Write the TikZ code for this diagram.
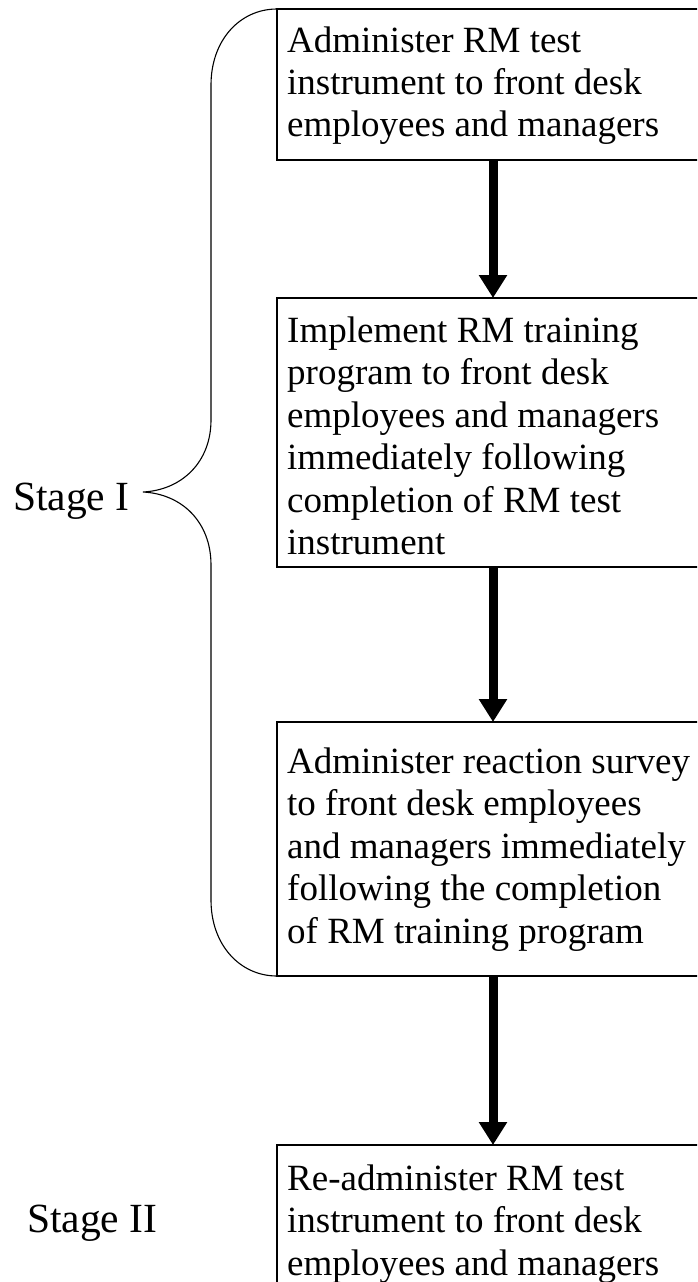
\documentclass[tikz,border=0pt]{standalone}
\usepackage{fontspec}
\setmainfont{Liberation Serif}
\usetikzlibrary{arrows.meta}
\tikzset{
  box/.style={draw, line width=2pt, rectangle, inner sep=0pt, outer sep=0pt, minimum width=432pt, anchor=north west},
  txt/.style={inner sep=0pt, anchor=base west, font=\fontsize{37}{42.5}\selectfont},
  stagelbl/.style={inner sep=0pt, anchor=base west, font=\fontsize{41.5}{48}\selectfont},
  arr/.style={line width=9pt, -{Triangle[width=27pt,length=23pt]}},
  bracepath/.style={line width=1.1pt}
}
\newcommand{\boxlines}[1]{\begin{tabular}[t]{@{}l@{}}#1\end{tabular}}
\begin{document}
\begin{tikzpicture}[x=1pt,y=-1pt]
\path[use as bounding box, clip] (0,0) rectangle (697,1282);
% boxes
\node[box, minimum height=151pt] (b1) at (277,9) {};
\node[box, minimum height=269pt] (b2) at (277,298) {};
\node[box, minimum height=254pt] (b3) at (277,722) {};
\node[box, minimum height=200pt] (b4) at (277,1145) {};
% texts
\node[txt] (t1) at (287,52) {\boxlines{Administer RM test\\instrument to front desk\\employees and managers}};
\node[txt] (t2) at (287,342) {\boxlines{Implement RM training\\program to front desk\\employees and managers\\immediately following\\completion of RM test\\instrument}};
\node[txt] (t3) at (287,773) {\boxlines{Administer reaction survey\\to front desk employees\\and managers immediately\\following the completion\\of RM training program}};
\node[txt] (t4) at (287,1190) {\boxlines{Re-administer RM test\\instrument to front desk\\employees and managers}};
% arrows
\draw[arr] (b1.south) -- (b2.north);
\draw[arr] (b2.south) -- (b3.north);
\draw[arr] (b3.south) -- (b4.north);
% brace
\coordinate (tip) at (143,492);
\draw[bracepath] (b1.north west) .. controls (240,9) and (211,40) .. (211,85)
  -- (211,420) .. controls (211,462) and (182,490) .. (tip)
  .. controls (182,494) and (211,522) .. (211,565)
  -- (211,900) .. controls (211,945) and (240,976) .. (b3.south west);
% stage labels
\node[stagelbl] (s1) at (13,510) {Stage I};
\node[stagelbl] (s2) at (27,1232) {Stage II};
\end{tikzpicture}
\end{document}
